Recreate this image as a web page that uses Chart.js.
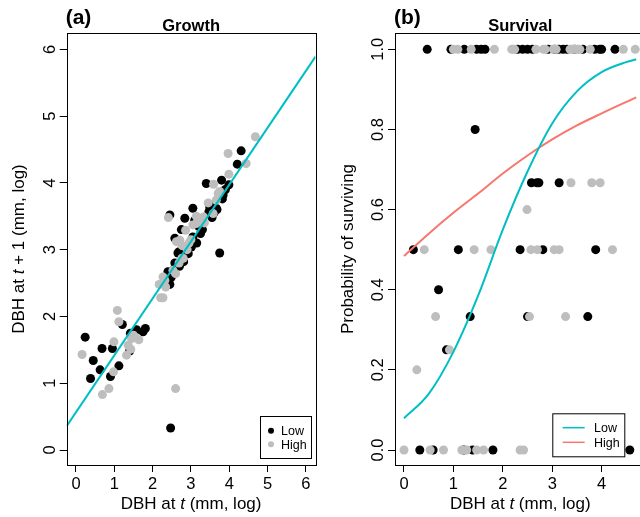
<!DOCTYPE html>
<html lang="en">
<head>
<meta charset="UTF-8">
<title>Growth and survival</title>
<script src="https://cdn.jsdelivr.net/npm/chart.js"></script>
<style>
  html, body { margin: 0; padding: 0; background: #fff; overflow: hidden; width: 640px; height: 517px; }
  #wrapA { position: absolute; left: 0; top: 0; width: 320px; height: 517px; }
  #wrapB { position: absolute; left: 320px; top: 0; width: 330px; height: 517px; }
</style>
</head>
<body>
<div id="wrapA"><canvas id="growthChart" width="320" height="517"></canvas></div>
<div id="wrapB"><canvas id="survivalChart" width="330" height="517"></canvas></div>
<script>
// ---- panel (a): growth, DBH at t vs DBH at t+1 ----
const growthLowX  = [0.24, 0.45, 0.38, 0.68, 0.63, 0.90, 0.95, 1.12, 1.21, 1.42, 1.58, 1.75, 1.81, 1.40, 2.47, 3.75,
                     2.40, 2.40, 2.45, 2.49, 2.53, 2.58, 2.66, 2.69, 2.81, 2.89, 2.93, 2.45, 2.84, 2.75, 2.58, 3.05,
                     3.01, 3.05, 3.10, 3.25, 3.47, 3.53, 3.49, 3.66, 3.68, 3.82, 3.84, 3.40, 3.80, 3.99, 4.21, 4.31,
                     3.15, 3.30, 3.20, 3.55, 2.95, 2.70, 3.60, 3.90];
const growthLowY  = [1.69, 1.34, 1.07, 1.52, 1.20, 1.10, 1.52, 1.26, 1.88, 1.75, 1.80, 1.77, 1.82, 1.48, 0.33, 2.95,
                     2.67, 2.50, 2.48, 2.59, 2.69, 2.80, 2.95, 2.97, 2.82, 2.94, 2.94, 3.52, 3.47, 3.30, 3.17, 3.19,
                     3.04, 3.62, 3.44, 3.24, 3.57, 3.67, 3.64, 3.62, 3.60, 3.76, 3.82, 3.99, 4.04, 3.97, 4.28, 4.48,
                     3.10, 3.30, 3.35, 3.48, 3.05, 2.75, 3.55, 3.90];
const growthHighX = [0.16, 0.69, 0.86, 0.98, 0.99, 1.08, 1.12, 1.32, 1.43, 1.36, 1.54, 1.64, 1.50, 1.45, 2.60,
                     2.17, 2.21, 2.27, 2.27, 2.32, 2.34, 2.60, 2.69, 2.76, 2.80, 2.90, 2.53, 2.41, 2.86, 2.71, 2.62,
                     2.77, 3.05, 3.14, 3.14, 3.23, 3.33, 3.45, 3.58, 3.59, 3.66, 3.71, 3.75, 3.97, 3.99, 4.44, 4.68,
                     3.00, 3.35, 2.95];
const growthHighY = [1.43, 0.83, 0.92, 1.17, 1.62, 2.09, 1.92, 1.42, 1.51, 1.57, 1.69, 1.65, 1.72, 1.67, 0.92,
                     2.48, 2.28, 2.28, 2.59, 2.54, 2.44, 2.64, 2.80, 2.87, 2.87, 3.00, 2.69, 3.48, 3.29, 3.14, 3.12,
                     3.06, 3.37, 3.50, 3.39, 3.42, 3.49, 3.70, 3.54, 3.98, 3.74, 3.84, 3.87, 4.44, 4.13, 4.29, 4.69,
                     3.15, 3.40, 3.10];
const growthFitX  = [-0.24, 6.25];
const growthFitY  = [0.36, 5.89];
const growthTicksX = [0, 1, 2, 3, 4, 5, 6];
const growthTicksY = [0, 1, 2, 3, 4, 5, 6];

// ---- panel (b): survival ----
const survLowX  = [0.47, 0.95, 1.22, 1.47, 1.56, 1.64, 2.30, 2.40, 2.50, 2.60, 2.92, 3.05, 3.13, 3.22, 3.30, 3.45, 3.62, 3.86, 3.96, 4.00, 4.27,
                   1.44,
                   2.58, 2.69, 2.73, 3.14,
                   0.19, 1.10, 2.35, 2.81, 3.88,
                   0.70,
                   1.34, 2.50, 3.72,
                   0.86,
                   0.32, 0.59, 1.21, 1.39, 1.80, 4.57];
const survLowY  = [1, 1, 1, 1, 1, 1, 1, 1, 1, 1, 1, 1, 1, 1, 1, 1, 1, 1, 1, 1, 1,
                   0.8,
                   0.667, 0.667, 0.667, 0.667,
                   0.5, 0.5, 0.5, 0.5, 0.5,
                   0.4,
                   0.333, 0.333, 0.333,
                   0.25,
                   0, 0, 0, 0, 0, 0];
const survHighX = [1.00, 1.09, 1.36, 1.83, 2.18, 2.21, 2.24, 2.67, 2.82, 2.86, 3.02, 3.08, 3.36, 3.41, 3.47, 3.52, 3.56, 3.77, 4.44, 4.68,
                   3.38, 3.80, 3.97,
                   2.49,
                   0.41, 1.42, 1.76, 2.57, 2.70, 3.04, 3.14, 4.22,
                   0.64, 2.54, 3.27,
                   0.92,
                   0.26,
                   0.00, 0.53, 0.80, 1.17, 1.27, 1.47, 1.61, 2.35, 2.42];
const survHighY = [1, 1, 1, 1, 1, 1, 1, 1, 1, 1, 1, 1, 1, 1, 1, 1, 1, 1, 1, 1,
                   0.667, 0.667, 0.667,
                   0.6,
                   0.5, 0.5, 0.5, 0.5, 0.5, 0.5, 0.5, 0.5,
                   0.333, 0.333, 0.333,
                   0.25,
                   0.2,
                   0, 0, 0, 0, 0, 0, 0, 0, 0];
const lowCurveX  = [0, 0.5, 1.0, 1.5, 2.0, 2.5, 3.0, 3.5, 4.0, 4.5, 4.7];
const lowCurveY  = [0.079, 0.14, 0.245, 0.385, 0.55, 0.695, 0.815, 0.895, 0.943, 0.968, 0.975];
const highCurveX = [0, 0.5, 1, 1.5, 2, 2.5, 3, 3.5, 4, 4.7];
const highCurveY = [0.484, 0.54, 0.592, 0.64, 0.69, 0.735, 0.775, 0.81, 0.84, 0.88];
const survTicksX = [0, 1, 2, 3, 4];
const survTicksY = [0, 0.2, 0.4, 0.6, 0.8, 1.0];

const FONT = '"Liberation Sans", Arial, Helvetica, sans-serif';
const TEAL = '#00BFC4';
const SALMON = '#F8766D';

const pairs = (xs, ys) => xs.map((x, i) => ({ x: x, y: ys[i] }));

// draw text made of [text, italic] parts, centred on x
function richText(ctx, parts, x, y, size) {
  let total = 0;
  const widths = parts.map(p => {
    ctx.font = (p[1] ? 'italic ' : '') + size + 'px ' + FONT;
    const w = ctx.measureText(p[0]).width;
    total += w;
    return w;
  });
  let cx = x - total / 2;
  ctx.textAlign = 'left';
  ctx.textBaseline = 'alphabetic';
  parts.forEach((p, i) => {
    ctx.font = (p[1] ? 'italic ' : '') + size + 'px ' + FONT;
    ctx.fillText(p[0], cx, y);
    cx += widths[i];
  });
}

function panelPlugin(cfg) {
  return {
    id: 'panel',
    afterDraw(chart) {
      const ctx = chart.ctx;
      const a = chart.chartArea;
      const xs = chart.scales.x, ys = chart.scales.y;
      ctx.save();
      ctx.fillStyle = '#000';
      ctx.strokeStyle = '#000';
      ctx.lineWidth = 1;
      // plot box
      ctx.strokeRect(Math.round(a.left) + 0.5, Math.round(a.top) + 0.5,
                     Math.round(a.right - a.left), Math.round(a.bottom - a.top));

      // x tick labels
      ctx.font = '16.5px ' + FONT;
      ctx.textAlign = 'center';
      ctx.textBaseline = 'alphabetic';
      cfg.xTicks.forEach(v => ctx.fillText(String(v), xs.getPixelForValue(v), 488.5));

      // y tick labels, rotated like R
      cfg.yTicks.forEach(v => {
        ctx.save();
        ctx.translate(a.left - 18, ys.getPixelForValue(v));
        ctx.rotate(-Math.PI / 2);
        ctx.font = '16.5px ' + FONT;
        ctx.textAlign = 'center';
        ctx.fillText(cfg.yFmt(v), 0, 6);
        ctx.restore();
      });

      // axis titles
      const midX = (a.left + a.right) / 2, midY = (a.top + a.bottom) / 2;
      richText(ctx, cfg.xTitle, midX, 509, 17);
      ctx.save();
      ctx.translate(a.left - 48.5, midY);
      ctx.rotate(-Math.PI / 2);
      richText(ctx, cfg.yTitle, 0, 6, 17);
      ctx.restore();

      // panel letter and title
      ctx.font = 'bold 21px ' + FONT;
      ctx.textAlign = 'left';
      ctx.fillText(cfg.letter, a.left - 1, 24);
      ctx.font = 'bold 16.5px ' + FONT;
      ctx.textAlign = 'center';
      ctx.fillText(cfg.title, midX, 30.5);

      // legend
      const L = cfg.legend;
      ctx.fillStyle = '#fff';
      ctx.fillRect(L.box[0], L.box[1], L.box[2], L.box[3]);
      ctx.strokeStyle = '#000';
      ctx.strokeRect(L.box[0] + 0.5, L.box[1] + 0.5, L.box[2], L.box[3]);
      L.items.forEach(it => {
        if (L.kind === 'dot') {
          ctx.fillStyle = it.color;
          ctx.beginPath();
          ctx.arc(L.markX, it.y, 3, 0, Math.PI * 2);
          ctx.fill();
        } else {
          ctx.strokeStyle = it.color;
          ctx.lineWidth = 1.5;
          ctx.beginPath();
          ctx.moveTo(L.markX, it.y);
          ctx.lineTo(L.markX + 22, it.y);
          ctx.stroke();
        }
        ctx.fillStyle = '#000';
        ctx.font = '12.5px ' + FONT;
        ctx.textAlign = 'left';
        ctx.fillText(it.label, L.textX, it.y + 4.5);
      });
      ctx.restore();
    }
  };
}

function axisOptions(min, max, ticks, fit) {
  return {
    type: 'linear',
    min: min,
    max: max,
    afterBuildTicks: s => { s.ticks = ticks.map(v => ({ value: v })); },
    afterFit: fit,
    ticks: { display: false },
    grid: { drawOnChartArea: false, drawTicks: true, tickLength: 7, color: '#000', lineWidth: 1 },
    border: { display: false }
  };
}

function baseOptions(xr, yr, xTicks, yTicks, leftW, padRight) {
  return {
    responsive: false,
    animation: false,
    devicePixelRatio: 1,
    layout: { padding: { top: 33, right: padRight, left: 0, bottom: 0 } },
    plugins: { legend: { display: false }, tooltip: { enabled: false } },
    scales: {
      x: axisOptions(xr[0], xr[1], xTicks, s => { s.height = 52; }),
      y: axisOptions(yr[0], yr[1], yTicks, s => { s.width = leftW; })
    }
  };
}

new Chart(document.getElementById('growthChart'), {
  type: 'scatter',
  data: {
    datasets: [
      { type: 'line', data: pairs(growthFitX, growthFitY), borderColor: TEAL, borderWidth: 2,
        pointRadius: 0, fill: false },
      { label: 'High', data: pairs(growthHighX, growthHighY), backgroundColor: '#bebebe',
        pointRadius: 4.5, pointBorderWidth: 0 },
      { label: 'Low', data: pairs(growthLowX, growthLowY), backgroundColor: '#000',
        pointRadius: 4.5, pointBorderWidth: 0 }
    ]
  },
  options: baseOptions([-0.242, 6.25], [-0.2246, 6.244], growthTicksX, growthTicksY, 66.7, 4),
  plugins: [panelPlugin({
    letter: '(a)', title: 'Growth',
    xTicks: growthTicksX, yTicks: growthTicksY, yFmt: v => String(v),
    xTitle: [['DBH at ', false], ['t', true], [' (mm, log)', false]],
    yTitle: [['DBH at ', false], ['t', true], [' + 1 (mm, log)', false]],
    legend: { kind: 'dot', box: [260, 416, 51, 42], markX: 271, textX: 281,
      items: [{ label: 'Low', color: '#000', y: 430.7 }, { label: 'High', color: '#bebebe', y: 444.3 }] }
  })]
});

new Chart(document.getElementById('survivalChart'), {
  type: 'scatter',
  data: {
    datasets: [
      { type: 'line', data: pairs(lowCurveX, lowCurveY), borderColor: TEAL, borderWidth: 2,
        pointRadius: 0, fill: false, cubicInterpolationMode: 'monotone' },
      { type: 'line', data: pairs(highCurveX, highCurveY), borderColor: SALMON, borderWidth: 2,
        pointRadius: 0, fill: false, cubicInterpolationMode: 'monotone' },
      { label: 'High', data: pairs(survHighX, survHighY), backgroundColor: '#bebebe',
        pointRadius: 4.5, pointBorderWidth: 0 },
      { label: 'Low', data: pairs(survLowX, survLowY), backgroundColor: '#000',
        pointRadius: 4.5, pointBorderWidth: 0 }
    ]
  },
  options: baseOptions([-0.182, 4.888], [-0.0374, 1.0407], survTicksX, survTicksY, 75, 4.4),
  plugins: [panelPlugin({
    letter: '(b)', title: 'Survival',
    xTicks: survTicksX, yTicks: survTicksY, yFmt: v => v.toFixed(1),
    xTitle: [['DBH at ', false], ['t', true], [' (mm, log)', false]],
    yTitle: [['Probability of surviving', false]],
    legend: { kind: 'line', box: [232.3, 413.3, 72, 43], markX: 242.7, textX: 274,
      items: [{ label: 'Low', color: TEAL, y: 427.7 }, { label: 'High', color: SALMON, y: 442.3 }] }
  })]
});
</script>
</body>
</html>
